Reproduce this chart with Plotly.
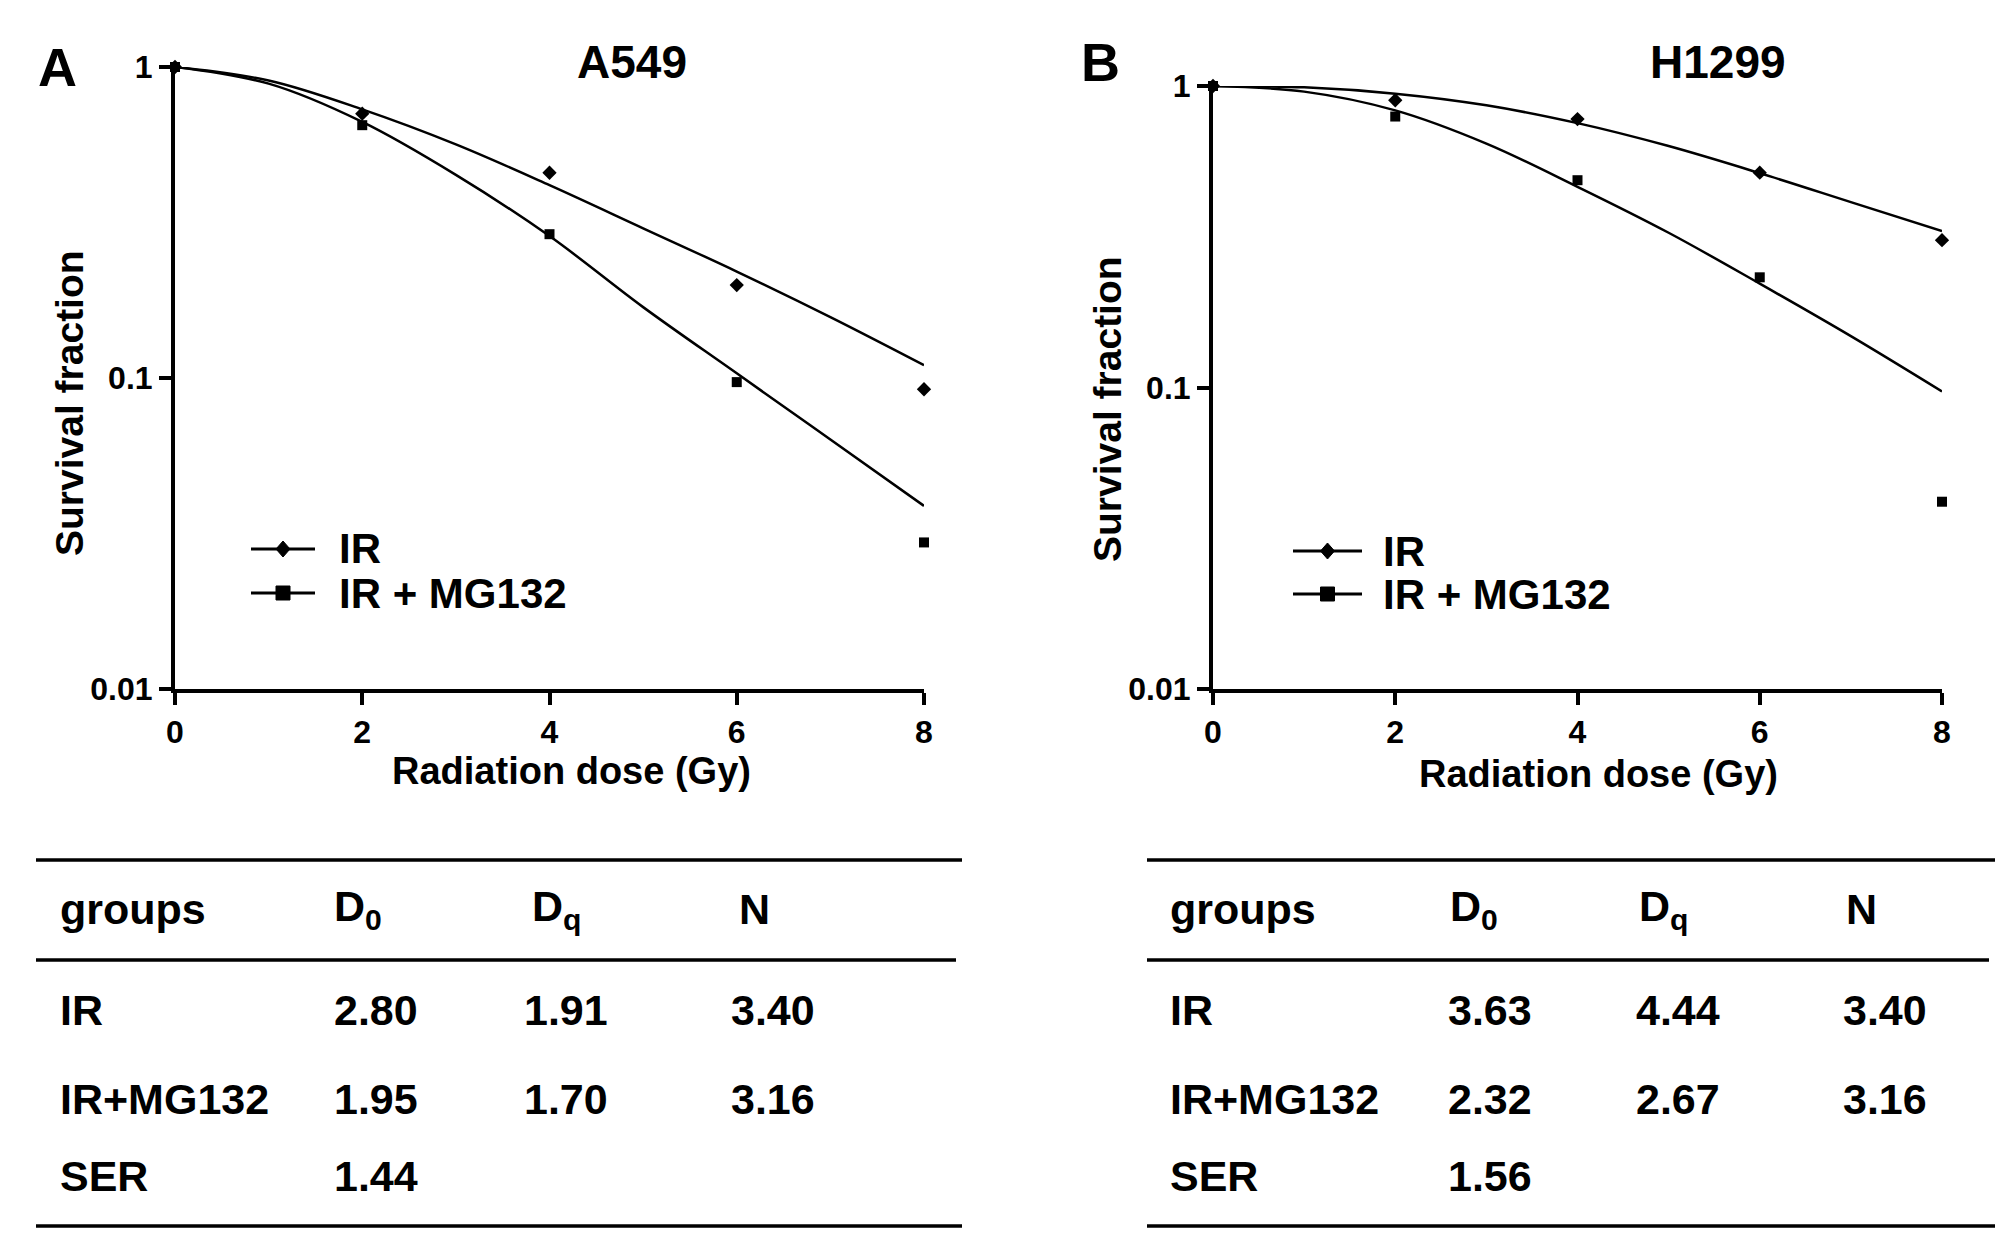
import plotly.graph_objects as go

W, H = 2008, 1249
OFF = 8  # page body margin

dose = [0, 2, 4, 6, 8]
fit_dose = [0, 1, 2, 3, 4, 5, 6, 7, 8]

# A549 survival (points) and fitted curves
a549_ir = [1.0, 0.708, 0.457, 0.199, 0.092]
a549_mg = [1.0, 0.65, 0.29, 0.097, 0.0296]
a549_ir_fit = [1.0, 0.905, 0.731, 0.564, 0.417, 0.303, 0.220, 0.157, 0.110]
a549_mg_fit = [1.0, 0.884, 0.666, 0.45, 0.286, 0.169, 0.1035, 0.0634, 0.0388]

# H1299
h1299_ir = [1.0, 0.897, 0.777, 0.516, 0.308]
h1299_mg = [1.0, 0.792, 0.487, 0.232, 0.0418]
h1299_ir_fit = [1.0, 0.99, 0.943, 0.863, 0.753, 0.632, 0.514, 0.412, 0.330]
h1299_mg_fit = [1.0, 0.958, 0.83, 0.644, 0.463, 0.326, 0.221, 0.148, 0.097]

series_names = ["IR", "IR + MG132"]
y_ticks = [0.01, 0.1, 1]
y_ticktext = ["0.01", "0.1", "1"]

# tables
tbl_header = ["groups", "D<sub>0</sub>", "D<sub>q</sub>", "N"]
tbl_groups = ["IR", "IR+MG132", "SER"]
a549_D0 = ["2.80", "1.95", "1.44"]
a549_Dq = ["1.91", "1.70", ""]
a549_N = ["3.40", "3.16", ""]
h1299_D0 = ["3.63", "2.32", "1.56"]
h1299_Dq = ["4.44", "2.67", ""]
h1299_N = ["3.40", "3.16", ""]

FONT = "Liberation Sans"


def px(x):
    return (x - OFF) / W


def py(y):
    return 1 - (y - OFF) / H


fig = go.Figure()

panels = [
    ("x", "y", a549_ir, a549_mg, a549_ir_fit, a549_mg_fit),
    ("x2", "y2", h1299_ir, h1299_mg, h1299_ir_fit, h1299_mg_fit),
]
for xa, ya, ir, mg, ir_fit, mg_fit in panels:
    for fit in (ir_fit, mg_fit):
        fig.add_trace(go.Scatter(x=fit_dose, y=fit, mode="lines", xaxis=xa, yaxis=ya,
                                 line=dict(color="black", width=2.5, shape="spline"),
                                 cliponaxis=False, showlegend=False))
    fig.add_trace(go.Scatter(x=dose, y=ir, mode="markers", xaxis=xa, yaxis=ya,
                             marker=dict(symbol="diamond", size=11, color="black"),
                             cliponaxis=False, showlegend=False, name=series_names[0]))
    fig.add_trace(go.Scatter(x=dose, y=mg, mode="markers", xaxis=xa, yaxis=ya,
                             marker=dict(symbol="square", size=10, color="black"),
                             cliponaxis=False, showlegend=False, name=series_names[1]))

tickfont = dict(family=FONT, size=32, color="black", weight="bold")
xax = dict(range=[0, 8], tickvals=dose, showline=True, linewidth=4, linecolor="black",
           ticks="outside", ticklen=12, tickwidth=4, tickcolor="black",
           showgrid=False, zeroline=False, tickfont=tickfont, automargin=False)
yax = dict(type="log", range=[-2, 0], tickvals=y_ticks, ticktext=y_ticktext,
           showline=True, linewidth=4, linecolor="black",
           ticks="outside", ticklen=12, tickwidth=4, tickcolor="black",
           showgrid=False, zeroline=False, tickfont=tickfont, automargin=False)

fig.update_layout(
    width=W, height=H,
    margin=dict(l=0, r=0, t=0, b=0, pad=0),
    paper_bgcolor="white", plot_bgcolor="white",
    showlegend=False,
    xaxis=dict(xax, domain=[px(175), px(924)], anchor="y"),
    yaxis=dict(yax, domain=[py(689), py(67)], anchor="x"),
    xaxis2=dict(xax, domain=[px(1213), px(1942)], anchor="y2"),
    yaxis2=dict(yax, domain=[py(689), py(86)], anchor="x2"),
)

ann = []
shapes = []


def text(x, y, s, size, xanchor="left", angle=0):
    ann.append(dict(x=px(x), y=py(y), xref="paper", yref="paper", text=s, showarrow=False,
                    xanchor=xanchor, yanchor="middle", textangle=angle,
                    font=dict(family=FONT, size=size, color="black", weight="bold")))


def hline(x0, x1, y, w=3.5):
    shapes.append(dict(type="line", xref="paper", yref="paper", x0=px(x0), x1=px(x1),
                       y0=py(y), y1=py(y), line=dict(color="black", width=w)))


def marker_shape(cx, cy, path):
    shapes.append(dict(type="path", xref="paper", yref="paper", xsizemode="pixel",
                       ysizemode="pixel", xanchor=px(cx), yanchor=py(cy), path=path,
                       fillcolor="black", line=dict(color="black", width=1)))


DIAMOND = "M0,8 L7,0 L0,-8 L-7,0 Z"
SQUARE = "M-7,-7 L7,-7 L7,7 L-7,7 Z"

# panel letters, titles, axis titles
text(57, 67, "A", 54, "center")
text(1100, 62, "B", 54, "center")
text(632, 62, "A549", 46, "center")
text(1718, 62, "H1299", 46, "center")
text(571, 771, "Radiation dose (Gy)", 38, "center")
text(1598, 774, "Radiation dose (Gy)", 38, "center")
text(69, 403, "Survival fraction", 39, "center", -90)
text(1107, 409, "Survival fraction", 39, "center", -90)

# legends
for (lx0, lx1, tx, ys) in [(251, 315, 337, (549, 593)), (1293, 1362, 1381, (551, 594))]:
    for name, yy, path in zip(series_names, ys, (DIAMOND, SQUARE)):
        hline(lx0, lx1, yy, 3)
        marker_shape((lx0 + lx1) / 2, yy, path)
        text(tx, yy, name, 42)

# tables
row_y = [1010, 1099, 1176]
tables = [
    (36, 962, [58, 332, 530, 737], [58, 332, 522, 729], a549_D0, a549_Dq, a549_N),
    (1147, 1995, [1168, 1448, 1637, 1844], [1168, 1446, 1634, 1841], h1299_D0, h1299_Dq, h1299_N),
]
for x0, x1, hcols, vcols, d0, dq, n in tables:
    hline(x0, x1, 860)
    hline(x0, x1 - 6, 960)
    hline(x0, x1, 1226)
    for hx, h in zip(hcols, tbl_header):
        text(hx, 909, h, 43)
    for i, yy in enumerate(row_y):
        for vx, v in zip(vcols, [tbl_groups[i], d0[i], dq[i], n[i]]):
            if v:
                text(vx, yy, v, 43)

fig.update_layout(annotations=ann, shapes=shapes)
fig.write_html("out.html")
